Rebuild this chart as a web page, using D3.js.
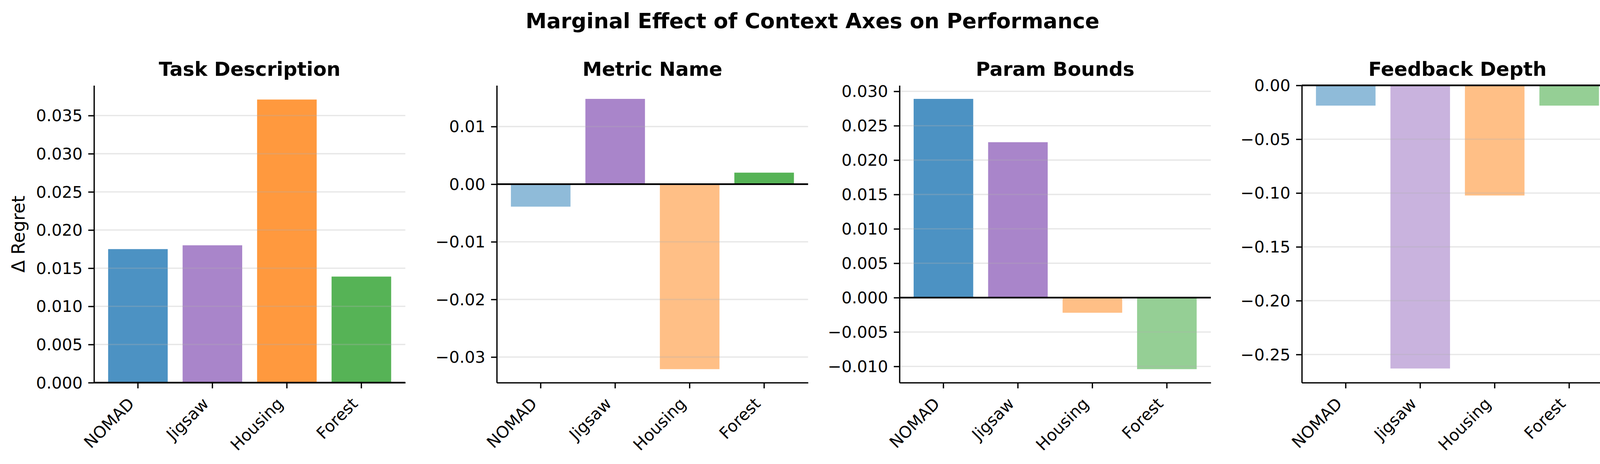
<!DOCTYPE html>
<html>
<head>
<meta charset="utf-8">
<script src="https://cdn.jsdelivr.net/npm/d3@7"></script>
<style>
  html, body { margin: 0; padding: 0; background: #ffffff; }
  svg { display: block; }
  text { font-family: "DejaVu Sans", sans-serif; }
</style>
</head>
<body>
<svg id="chart" width="4160" height="1187"></svg>
<script>
// ---------------- data ----------------
const categories = ["NOMAD", "Jigsaw", "Housing", "Forest"];
const panelTitles = ["Task Description", "Metric Name", "Param Bounds", "Feedback Depth"];
const suptitle = "Marginal Effect of Context Axes on Performance";
const yLabel = "\u0394 Regret";

const taskDescriptionValues = [0.0175, 0.0180, 0.0371, 0.0139];
const metricNameValues      = [-0.0039, 0.0148, -0.0321, 0.0020];
const paramBoundsValues     = [0.0289, 0.0226, -0.0022, -0.0104];
const feedbackDepthValues   = [-0.0188, -0.263, -0.1023, -0.0188];

const taskDescriptionTicks = [0.000, 0.005, 0.010, 0.015, 0.020, 0.025, 0.030, 0.035];
const metricNameTicks      = [-0.03, -0.02, -0.01, 0.00, 0.01];
const paramBoundsTicks     = [-0.010, -0.005, 0.000, 0.005, 0.010, 0.015, 0.020, 0.025, 0.030];
const feedbackDepthTicks   = [-0.25, -0.20, -0.15, -0.10, -0.05, 0.00];
const tickFormats = [".3f", ".2f", ".3f", ".2f"];

const categoryColors = ["#1f77b4", "#9467bd", "#ff7f0e", "#2ca02c"];

// ---------------- layout ----------------
const dpiScale = 300 / 72;           // px per pt
const axesLeft = [240.6, 1271.7, 2302.7, 3332.6];
const axesWidth = 797;
const axesTop = 218.4, axesBottom = 978.9;
const axesHeight = axesBottom - axesTop;
const tickLen = 3.5 * dpiScale, tickPad = 3.5 * dpiScale;
const tickFont = 10 * dpiScale, titleFont = 12 * dpiScale, labelFont = 11 * dpiScale, supFont = 13 * dpiScale;
const spineW = 0.8 * dpiScale, zeroW = 1.0 * dpiScale;

const panels = [
  { title: panelTitles[0], values: taskDescriptionValues, ticks: taskDescriptionTicks, fmt: tickFormats[0] },
  { title: panelTitles[1], values: metricNameValues,      ticks: metricNameTicks,      fmt: tickFormats[1] },
  { title: panelTitles[2], values: paramBoundsValues,     ticks: paramBoundsTicks,     fmt: tickFormats[2] },
  { title: panelTitles[3], values: feedbackDepthValues,   ticks: feedbackDepthTicks,   fmt: tickFormats[3] }
];

const svg = d3.select("#chart");
svg.append("rect").attr("width", 4160).attr("height", 1187).attr("fill", "#ffffff");

svg.append("text")
  .attr("x", 2080).attr("y", 71.5)
  .attr("text-anchor", "middle")
  .attr("font-size", supFont).attr("font-weight", "bold")
  .text(suptitle);

function yDomain(vals) {
  const mn = Math.min(0, d3.min(vals)), mx = Math.max(0, d3.max(vals));
  const r = mx - mn;
  return [mn < 0 ? mn - 0.05 * r : 0, mx > 0 ? mx + 0.05 * r : 0];
}

panels.forEach((p, i) => {
  const g = svg.append("g").attr("transform", `translate(${axesLeft[i]},${axesTop})`);
  const x = d3.scaleBand().domain(categories).range([0, axesWidth]).paddingInner(0.2).paddingOuter(0.19);
  const y = d3.scaleLinear().domain(yDomain(p.values)).range([axesHeight, 0]);

  // bars
  g.selectAll("rect.bar").data(p.values).enter().append("rect")
    .attr("class", "bar")
    .attr("x", (d, j) => x(categories[j]))
    .attr("width", x.bandwidth())
    .attr("y", d => y(Math.max(0, d)))
    .attr("height", d => Math.abs(y(d) - y(0)))
    .attr("fill", (d, j) => categoryColors[j])
    .attr("fill-opacity", d => d >= 0 ? 0.8 : 0.5);

  // grid (above bars, as matplotlib default)
  g.selectAll("line.grid").data(p.ticks).enter().append("line")
    .attr("class", "grid")
    .attr("x1", 0).attr("x2", axesWidth)
    .attr("y1", d => y(d)).attr("y2", d => y(d))
    .attr("stroke", "#b0b0b0").attr("stroke-opacity", 0.3)
    .attr("stroke-width", spineW);

  // zero line
  g.append("line")
    .attr("x1", 0).attr("x2", axesWidth)
    .attr("y1", y(0)).attr("y2", y(0))
    .attr("stroke", "#000").attr("stroke-width", zeroW);

  // y axis
  const ya = g.append("g")
    .call(d3.axisLeft(y).tickValues(p.ticks).tickFormat(d3.format(p.fmt))
      .tickSize(tickLen).tickSizeOuter(0).tickPadding(tickPad));
  ya.select(".domain").attr("stroke", "#000").attr("stroke-width", spineW);
  ya.selectAll(".tick line").attr("stroke", "#000").attr("stroke-width", spineW);
  ya.selectAll(".tick text").attr("font-size", tickFont).attr("fill", "#000")
    .attr("font-family", "DejaVu Sans").attr("dy", "0.34em");

  // x axis
  const xa = g.append("g").attr("transform", `translate(0,${axesHeight})`)
    .call(d3.axisBottom(x).tickSize(tickLen).tickSizeOuter(0).tickPadding(0));
  xa.select(".domain").attr("stroke", "#000").attr("stroke-width", spineW);
  xa.selectAll(".tick line").attr("stroke", "#000").attr("stroke-width", spineW);
  const hBox = tickFont * 1.164;
  const off = 0.354 * hBox;
  xa.selectAll(".tick text")
    .attr("font-size", tickFont).attr("fill", "#000").attr("font-family", "DejaVu Sans")
    .attr("text-anchor", "end")
    .attr("dy", null)
    .attr("dominant-baseline", "central")
    .attr("y", 0)
    .attr("transform", `translate(${-off},${tickLen + tickPad + off}) rotate(-45)`);

  // title
  g.append("text")
    .attr("x", axesWidth / 2).attr("y", -24.5)
    .attr("text-anchor", "middle")
    .attr("font-size", titleFont).attr("font-weight", "bold")
    .text(p.title);
});

// y label
svg.append("text")
  .attr("transform", `translate(47,${axesTop + axesHeight / 2}) rotate(-90)`)
  .attr("text-anchor", "middle")
  .attr("dominant-baseline", "central")
  .attr("font-size", labelFont)
  .text(yLabel);
</script>
</body>
</html>
